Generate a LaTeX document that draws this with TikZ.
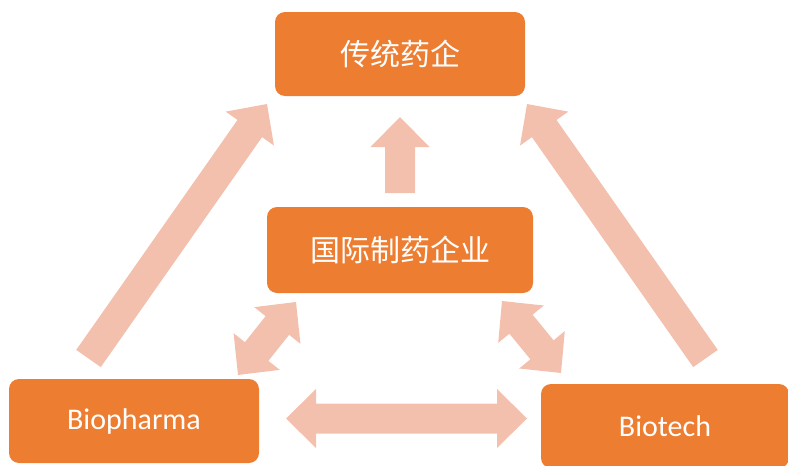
\documentclass[tikz,border=0pt]{standalone}
\usepackage{fontspec}
\setmainfont{Carlito}
\newfontfamily\cjk{Noto Sans CJK SC}
\usetikzlibrary{calc}
\definecolor{boxorange}{HTML}{ED7D31}
\definecolor{arrowpink}{RGB}{244,192,174}
\tikzset{
  orgbox/.style={fill=boxorange, rounded corners=10pt, inner sep=0pt, text=white,
    font=\fontsize{30}{36}\selectfont},
  fatfill/.style={fill=arrowpink}
}
% single fat arrow from #1 (tail) to #2 (tip)
\newcommand\fatarrow[2]{%
  \coordinate (hh) at ($(#2)!30pt!(#1)$);
  \fill[fatfill] ($(#1)!15pt!90:(#2)$) -- ($(hh)!15pt!90:(#2)$) -- ($(hh)!29.5pt!90:(#2)$)
    -- (#2) -- ($(hh)!29.5pt!-90:(#2)$) -- ($(hh)!15pt!-90:(#2)$) -- ($(#1)!15pt!-90:(#2)$) -- cycle;}
% double fat arrow between tips #1 and #2
\newcommand\fatdouble[2]{%
  \coordinate (ha) at ($(#1)!30pt!(#2)$);
  \coordinate (hb) at ($(#2)!30pt!(#1)$);
  \fill[fatfill] (#1) -- ($(ha)!29.5pt!90:(#2)$) -- ($(ha)!15pt!90:(#2)$) -- ($(hb)!15pt!-90:(#1)$)
    -- ($(hb)!29.5pt!-90:(#1)$) -- (#2) -- ($(hb)!29.5pt!90:(#1)$) -- ($(hb)!15pt!90:(#1)$)
    -- ($(ha)!15pt!-90:(#2)$) -- ($(ha)!29.5pt!-90:(#2)$) -- cycle;}
\begin{document}
\begin{tikzpicture}[x=1pt,y=-1pt]
\useasboundingbox (0,0) rectangle (788,466);
% boxes
\node[orgbox, minimum width=250pt, minimum height=84pt] (trad) at (400,54) {\cjk 传统药企};
\node[orgbox, minimum width=266pt, minimum height=86pt] (intl) at (400,250) {\cjk 国际制药企业};
\node[orgbox, minimum width=250pt, minimum height=84pt] (biop) at (134,421) {Biopharma};
\node[orgbox, minimum width=248pt, minimum height=84pt] (biot) at (665,426) {Biotech};
% arrow end points
\coordinate (upTail) at (400,193);
\coordinate (upTip) at (400,117);
\coordinate (lTail) at (88.5,358.5);
\coordinate (lTip) at (267,104);
\coordinate (rTail) at (705.5,358.5);
\coordinate (rTip) at (527,104);
\coordinate (hA) at (286,418.5);
\coordinate (hB) at (527,418.5);
\coordinate (slA) at (238,375);
\coordinate (slB) at (296,302);
\coordinate (srA) at (502,301);
\coordinate (srB) at (561,373);
% arrows
\fatarrow{upTail}{upTip}
\fatarrow{lTail}{lTip}
\fatarrow{rTail}{rTip}
\fatdouble{hA}{hB}
\fatdouble{slA}{slB}
\fatdouble{srA}{srB}
\end{tikzpicture}
\end{document}
